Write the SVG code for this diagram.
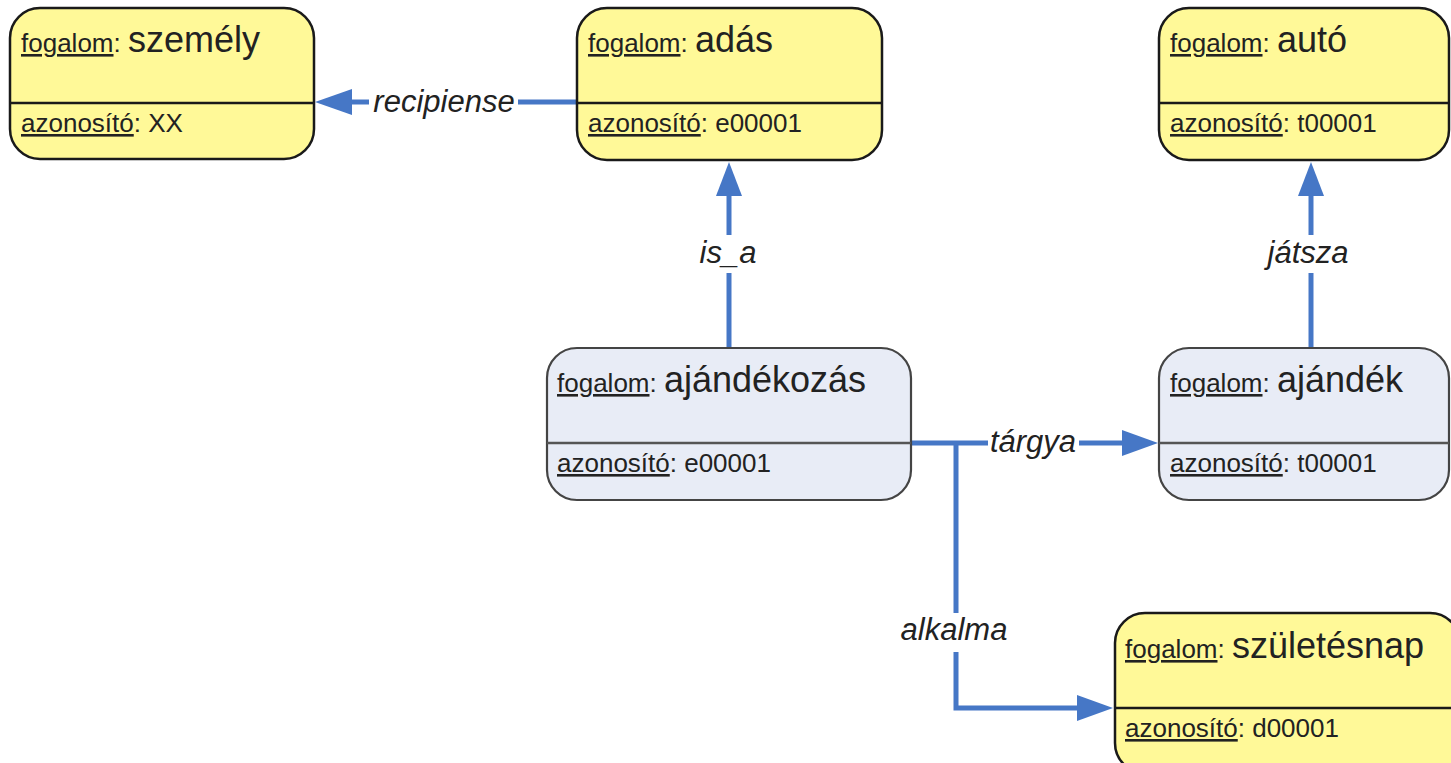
<svg xmlns="http://www.w3.org/2000/svg" width="1451" height="763" viewBox="0 0 1451 763">
<defs>
<style>
.ybox{fill:#FFF998;stroke:#1a1a1a;stroke-width:2.5}
.bbox{fill:#E8ECF6;stroke:#444;stroke-width:2.2}
.ydiv{stroke:#1a1a1a;stroke-width:2.5}
.bdiv{stroke:#555;stroke-width:2.5}
text{font-family:"Liberation Sans",Arial,sans-serif;fill:#222}
.small{font-size:26px}
.title{font-size:36px}
.u{text-decoration:underline}
.lbl{font-size:31px;font-style:italic;text-anchor:middle}
.edge{stroke:#4677C6;stroke-width:5;fill:none}
.ah{fill:#4677C6}
</style>
</defs>
<g id="connectors">
<!-- recipiense -->
<line class="edge" x1="578" y1="102" x2="518" y2="102"/>
<line class="edge" x1="369" y1="102" x2="345" y2="102"/>
<polygon class="ah" points="315,102 352,89 352,115"/>
<text class="lbl" x="444" y="112">recipiense</text>
<!-- is_a -->
<line class="edge" x1="729" y1="348" x2="729" y2="273"/>
<line class="edge" x1="729" y1="235" x2="729" y2="190"/>
<polygon class="ah" points="729,162 716,196 742,196"/>
<text class="lbl" x="728" y="263">is_a</text>
<!-- játsza -->
<line class="edge" x1="1311" y1="348" x2="1311" y2="273"/>
<line class="edge" x1="1311" y1="235" x2="1311" y2="190"/>
<polygon class="ah" points="1311,162 1298,196 1324,196"/>
<text class="lbl" x="1308" y="263">játsza</text>
<!-- tárgya -->
<line class="edge" x1="911" y1="443" x2="988" y2="443"/>
<line class="edge" x1="1079" y1="443" x2="1126" y2="443"/>
<polygon class="ah" points="1158,443 1122,430 1122,456"/>
<text class="lbl" x="1033" y="452">tárgya</text>
<!-- alkalma -->
<polyline class="edge" points="956,443 956,613"/>
<polyline class="edge" points="956,652 956,708 1082,708"/>
<polygon class="ah" points="1113,708 1077,695 1077,721"/>
<text class="lbl" x="954" y="640">alkalma</text>
</g>
<g id="szemely">
<rect class="ybox" x="10" y="8" width="304" height="151" rx="30"/>
<line class="ydiv" x1="10" y1="103" x2="314" y2="103"/>
<text x="21" y="52"><tspan class="small u">fogalom</tspan><tspan class="small">: </tspan><tspan class="title">személy</tspan></text>
<text x="21" y="132" class="small"><tspan class="u">azonosító</tspan>: XX</text>
</g>
<g id="adas">
<rect class="ybox" x="577" y="8" width="305" height="152" rx="30"/>
<line class="ydiv" x1="577" y1="103" x2="882" y2="103"/>
<text x="588" y="52"><tspan class="small u">fogalom</tspan><tspan class="small">: </tspan><tspan class="title">adás</tspan></text>
<text x="588" y="132" class="small"><tspan class="u">azonosító</tspan>: e00001</text>
</g>
<g id="auto">
<rect class="ybox" x="1159" y="8" width="290" height="152" rx="30"/>
<line class="ydiv" x1="1159" y1="103" x2="1449" y2="103"/>
<text x="1170" y="52"><tspan class="small u">fogalom</tspan><tspan class="small">: </tspan><tspan class="title">autó</tspan></text>
<text x="1170" y="132" class="small"><tspan class="u">azonosító</tspan>: t00001</text>
</g>
<g id="ajandekozas">
<rect class="bbox" x="547" y="348" width="364" height="152" rx="30"/>
<line class="bdiv" x1="547" y1="443" x2="911" y2="443"/>
<text x="557" y="392"><tspan class="small u">fogalom</tspan><tspan class="small">: </tspan><tspan class="title">ajándékozás</tspan></text>
<text x="557" y="472" class="small"><tspan class="u">azonosító</tspan>: e00001</text>
</g>
<g id="ajandek">
<rect class="bbox" x="1159" y="348" width="290" height="152" rx="30"/>
<line class="bdiv" x1="1159" y1="443" x2="1449" y2="443"/>
<text x="1170" y="392"><tspan class="small u">fogalom</tspan><tspan class="small">: </tspan><tspan class="title">ajándék</tspan></text>
<text x="1170" y="472" class="small"><tspan class="u">azonosító</tspan>: t00001</text>
</g>
<g id="szuletesnap">
<rect class="ybox" x="1115" y="613" width="345" height="160" rx="30"/>
<line class="ydiv" x1="1115" y1="708" x2="1451" y2="708"/>
<text x="1125" y="658"><tspan class="small u">fogalom</tspan><tspan class="small">: </tspan><tspan class="title">születésnap</tspan></text>
<text x="1125" y="737" class="small"><tspan class="u">azonosító</tspan>: d00001</text>
</g>
</svg>
